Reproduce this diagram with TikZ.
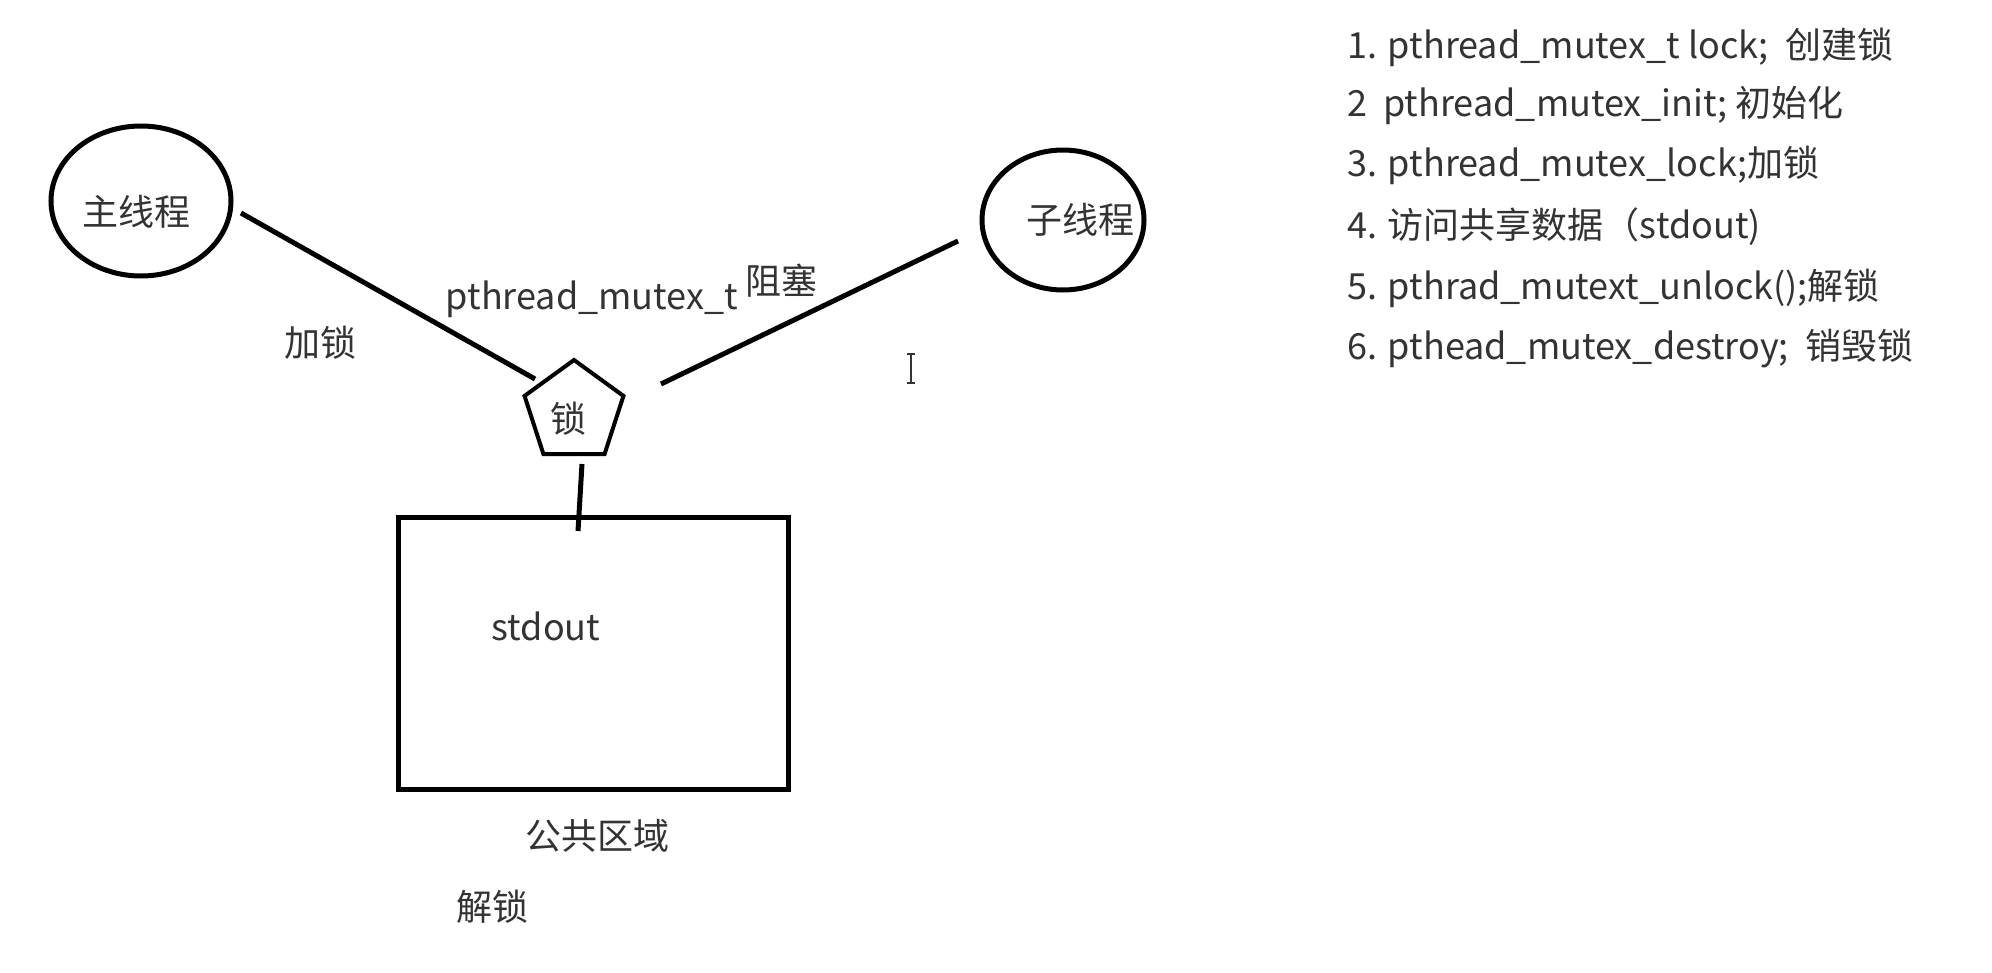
\documentclass[tikz,border=0pt]{standalone}
\usepackage{fontspec}
\setmainfont{Noto Sans CJK SC}
\usetikzlibrary{shapes.geometric}
\definecolor{txt}{HTML}{333333}
\tikzset{
  thick line/.style={line width=5pt, black},
  lbl/.style={font=\fontsize{36}{42}\selectfont, text=txt, inner sep=0pt},
  listitem/.style={lbl, anchor=west},
  thread/.style={ellipse, draw, line width=5pt, inner sep=0pt},
}
\begin{document}
\begin{tikzpicture}[x=1pt,y=-1pt]
\useasboundingbox[fill=white] (0,0) rectangle (1992,972);
% threads
\node[thread, minimum width=180, minimum height=150] (main) at (141,201) {};
\node[lbl] (mainlbl) at (136,212) {主线程};
\node[thread, minimum width=162, minimum height=140] (sub) at (1063,220) {};
\node[lbl] (sublbl) at (1080,220) {子线程};
% lock
\node[regular polygon, regular polygon sides=5, draw, line width=4pt, minimum size=104, inner sep=0pt] (lock) at (574,412) {};
\node[lbl] (locklbl) at (568,419) {锁};
% shared box
\node[draw, line width=5pt, minimum width=390, minimum height=272, inner sep=0pt] (box) at (593,653) {};
\node[lbl] (stdout) at (546,626) {stdout};
\node[lbl] (pub) at (597,836) {公共区域};
\node[lbl] (unlock) at (492,907) {解锁};
% labels
\node[lbl] (addlock) at (320,343) {加锁};
\node[lbl] (mtx) at (592,299) {pthread\_mutex\_t};
\node[lbl] (block) at (781,281) {阻塞};
% connectors
\coordinate (m1) at (241,213);
\coordinate (m2) at (535,379);
\coordinate (s1) at (958,241);
\coordinate (s2) at (661,384);
\coordinate (v1) at (582,464);
\coordinate (v2) at (578,531);
\draw[thick line] (m1) -- (m2);
\draw[thick line] (s1) -- (s2);
\draw[thick line] (v1) -- (v2);
% text cursor
\coordinate (c1) at (911,354);
\coordinate (c2) at (911,383);
\draw[line width=1.5pt, txt] (c1) -- (c2);
\draw[line width=1.5pt, txt] ([xshift=-4]c1) -- ([xshift=4]c1);
\draw[line width=1.5pt, txt] ([xshift=-4]c2) -- ([xshift=4]c2);
% list
\node[listitem] (l1) at (1347,47)  {1. pthread\_mutex\_t lock;\ \ 创建锁};
\node[listitem] (l2) at (1347,105) {2\ \ pthread\_mutex\_init; 初始化};
\node[listitem] (l3) at (1347,165) {3. pthread\_mutex\_lock;加锁};
\node[listitem] (l4) at (1347,227) {4. 访问共享数据（stdout)};
\node[listitem] (l5) at (1347,288) {5. pthrad\_mutext\_unlock();解锁};
\node[listitem] (l6) at (1347,348) {6. pthead\_mutex\_destroy;\ \ 销毁锁};
\end{tikzpicture}
\end{document}
